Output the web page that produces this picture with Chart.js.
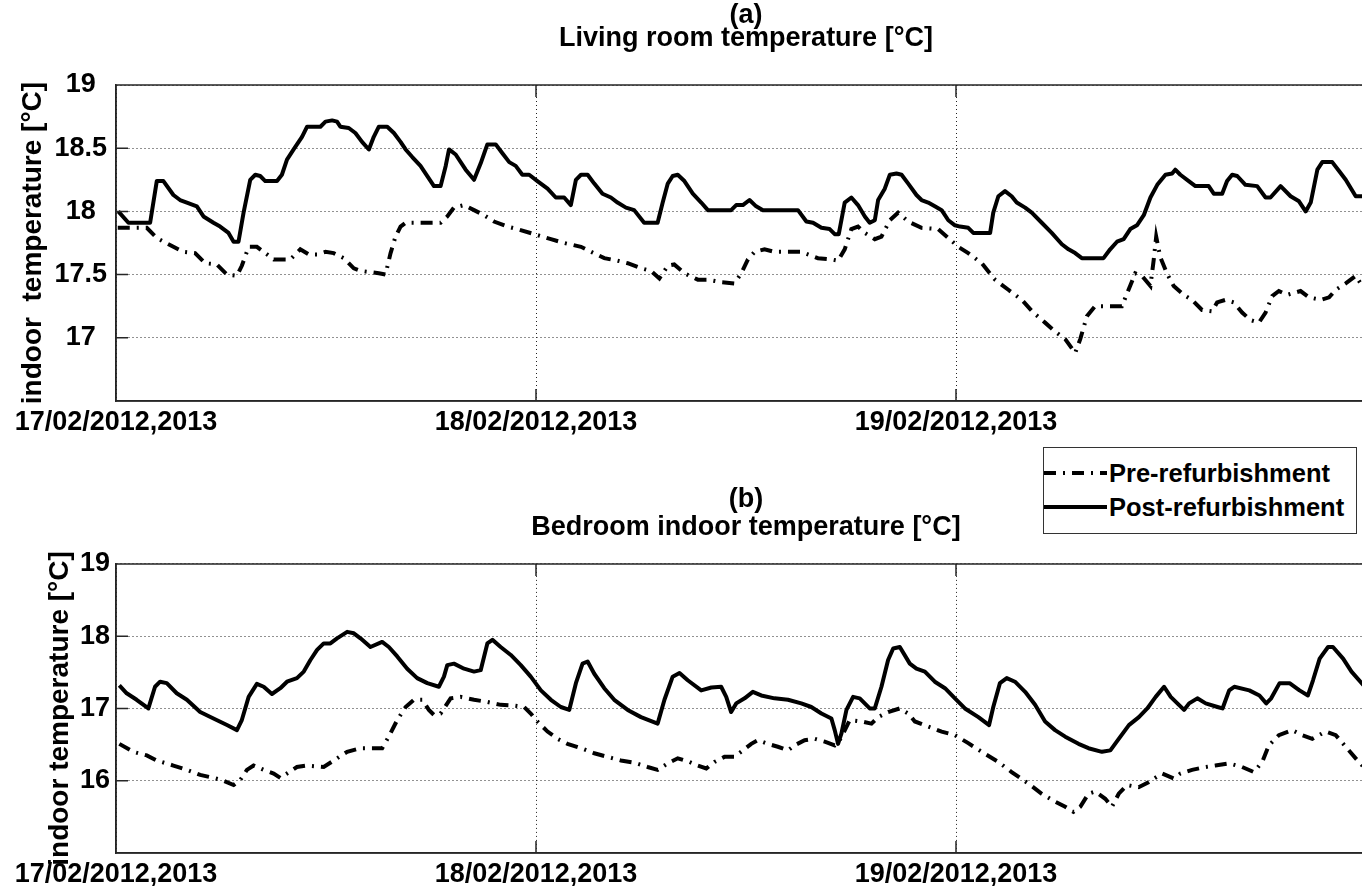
<!DOCTYPE html>
<html>
<head>
<meta charset="utf-8">
<script src="https://cdn.jsdelivr.net/npm/chart.js@4"></script>
<style>
  html, body { margin: 0; padding: 0; background: #fff; overflow: hidden; }
  #wrap { position: relative; width: 1362px; height: 886px; overflow: hidden; }
  #wrap canvas { position: absolute; left: 0; }
  #chartTop { top: 0; }
  #chartBottom { top: 470px; }
  #legend {
    position: absolute; left: 1043px; top: 447px; width: 312px; height: 77px;
    border: 1.5px solid #333; background: #fff; z-index: 2;
    font: bold 25.5px "Liberation Sans", Arial, sans-serif; color: #000;
    padding-top: 8px; box-sizing: content-box;
  }
  #legend .row { display: flex; align-items: center; height: 34px; }
  #legend svg { flex: none; }
  #legend span { margin-left: 2px; white-space: nowrap; }
</style>
</head>
<body>
<div id="wrap">
  <canvas id="chartTop" width="1376" height="455"></canvas>
  <canvas id="chartBottom" width="1376" height="416"></canvas>
  <div id="legend"></div>
</div>
<script>
// time axis in hours from 17/02 00:00
const dayHours = [0, 24, 48];
const dayLabels = ["17/02/2012,2013", "18/02/2012,2013", "19/02/2012,2013"];
const seriesNames = ["Pre-refurbishment", "Post-refurbishment"];

const livingTicks = [17, 17.5, 18, 18.5, 19];
const bedroomTicks = [16, 17, 18, 19];

// (a) living room
const livingPreHours = [0.1, 1.76, 2.33, 3.28, 3.85, 4.52, 5.1, 5.76, 6.34, 6.91, 7.19, 7.58, 8.05, 8.63, 9.01, 9.96, 10.53, 11.01, 11.49, 11.97, 12.44, 13.02, 13.59, 13.97, 15.02, 15.4, 15.69, 15.97, 16.26, 16.55, 18.55, 18.93, 19.31, 19.89, 20.46, 21.03, 21.6, 22.37, 22.94, 23.9, 24.85, 25.61, 26.57, 27.15, 27.9, 28.66, 29.24, 30.0, 30.57, 31.05, 31.53, 31.9, 32.48, 33.25, 33.82, 34.58, 35.34, 35.73, 36.11, 36.49, 37.06, 37.63, 39.16, 40.11, 40.88, 41.26, 41.64, 42.02, 42.4, 42.79, 43.36, 43.74, 44.22, 44.69, 45.27, 46.03, 46.98, 47.56, 48.13, 48.7, 49.47, 50.23, 50.99, 51.76, 52.42, 53.09, 53.66, 54.24, 54.81, 55.1, 55.48, 55.95, 57.48, 57.86, 58.24, 58.63, 59.11, 59.3, 59.44, 59.67, 60.05, 60.44, 61.01, 61.49, 62.06, 62.63, 62.92, 63.4, 63.87, 64.35, 64.83, 65.31, 65.69, 66.07, 66.45, 66.93, 67.69, 68.17, 68.84, 69.32, 69.7, 70.27, 70.84, 71.36];
const livingPreTemp = [17.87, 17.87, 17.79, 17.72, 17.68, 17.67, 17.59, 17.58, 17.5, 17.49, 17.57, 17.72, 17.72, 17.66, 17.62, 17.62, 17.7, 17.66, 17.66, 17.68, 17.67, 17.63, 17.55, 17.53, 17.51, 17.5, 17.67, 17.8, 17.88, 17.91, 17.91, 17.96, 18.03, 18.05, 18.01, 17.97, 17.92, 17.88, 17.86, 17.82, 17.78, 17.75, 17.72, 17.68, 17.63, 17.61, 17.59, 17.55, 17.53, 17.47, 17.57, 17.58, 17.51, 17.46, 17.46, 17.44, 17.43, 17.51, 17.62, 17.68, 17.7, 17.68, 17.68, 17.63, 17.62, 17.61, 17.7, 17.86, 17.88, 17.83, 17.78, 17.8, 17.93, 17.99, 17.92, 17.87, 17.86, 17.79, 17.72, 17.67, 17.59, 17.46, 17.38, 17.3, 17.2, 17.12, 17.05, 16.99, 16.88, 16.99, 17.17, 17.25, 17.25, 17.38, 17.51, 17.49, 17.41, 17.62, 17.8, 17.64, 17.51, 17.41, 17.34, 17.3, 17.22, 17.21, 17.28, 17.3, 17.28, 17.2, 17.14, 17.12, 17.2, 17.33, 17.37, 17.34, 17.37, 17.32, 17.3, 17.32, 17.38, 17.43, 17.49, 17.38];
const livingPostHours = [0.13, 0.71, 1.95, 2.33, 2.71, 3.28, 3.66, 4.05, 4.62, 5.0, 5.57, 5.95, 6.43, 6.72, 7.0, 7.29, 7.67, 7.96, 8.24, 8.53, 9.2, 9.48, 9.77, 10.15, 10.63, 10.92, 11.68, 11.97, 12.35, 12.63, 12.82, 13.3, 13.68, 14.06, 14.45, 14.73, 15.02, 15.5, 15.88, 16.26, 16.55, 16.93, 17.4, 17.79, 18.17, 18.55, 18.84, 19.03, 19.41, 19.98, 20.46, 20.84, 21.22, 21.7, 22.08, 22.47, 22.84, 23.22, 23.61, 24.08, 24.66, 25.13, 25.61, 25.99, 26.28, 26.57, 26.95, 27.33, 27.8, 28.28, 28.66, 29.14, 29.61, 30.18, 30.95, 31.24, 31.53, 31.81, 32.1, 32.48, 32.96, 33.44, 33.82, 35.15, 35.44, 35.82, 36.2, 36.58, 36.97, 38.97, 39.45, 39.83, 40.31, 40.78, 41.07, 41.3, 41.64, 42.02, 42.4, 42.79, 43.07, 43.36, 43.55, 43.93, 44.22, 44.6, 44.89, 45.27, 45.74, 46.03, 46.41, 46.79, 47.18, 47.56, 47.94, 48.23, 48.7, 48.99, 49.95, 50.13, 50.42, 50.8, 51.18, 51.47, 51.95, 52.33, 52.9, 53.47, 54.05, 54.43, 54.81, 55.19, 56.43, 56.81, 57.2, 57.58, 57.96, 58.34, 58.73, 59.11, 59.5, 59.97, 60.35, 60.53, 60.82, 61.3, 61.68, 62.44, 62.73, 63.21, 63.49, 63.78, 64.07, 64.54, 65.21, 65.69, 65.97, 66.55, 67.12, 67.6, 67.98, 68.27, 68.65, 68.93, 69.5, 69.89, 70.27, 70.84, 71.36];
const livingPostTemp = [18.0, 17.91, 17.91, 18.24, 18.24, 18.13, 18.09, 18.07, 18.04, 17.96, 17.91, 17.88, 17.83, 17.76, 17.76, 17.99, 18.25, 18.29, 18.28, 18.24, 18.24, 18.29, 18.41, 18.49, 18.59, 18.67, 18.67, 18.71, 18.72, 18.71, 18.67, 18.66, 18.62, 18.55, 18.49, 18.59, 18.67, 18.67, 18.62, 18.55, 18.49, 18.43, 18.36, 18.28, 18.2, 18.2, 18.36, 18.49, 18.45, 18.33, 18.25, 18.38, 18.53, 18.53, 18.46, 18.39, 18.36, 18.29, 18.29, 18.24, 18.18, 18.11, 18.11, 18.05, 18.25, 18.29, 18.29, 18.22, 18.14, 18.11, 18.07, 18.03, 18.01, 17.91, 17.91, 18.07, 18.22, 18.28, 18.29, 18.24, 18.14, 18.07, 18.01, 18.01, 18.05, 18.05, 18.09, 18.04, 18.01, 18.01, 17.92, 17.91, 17.87, 17.86, 17.82, 17.82, 18.07, 18.11, 18.05, 17.96, 17.91, 17.93, 18.09, 18.18, 18.29, 18.3, 18.29, 18.22, 18.13, 18.09, 18.07, 18.04, 18.01, 17.93, 17.89, 17.88, 17.87, 17.83, 17.83, 17.99, 18.12, 18.16, 18.12, 18.07, 18.03, 17.99, 17.91, 17.83, 17.74, 17.7, 17.67, 17.63, 17.63, 17.7, 17.76, 17.78, 17.86, 17.89, 17.97, 18.11, 18.21, 18.29, 18.3, 18.33, 18.29, 18.24, 18.2, 18.2, 18.14, 18.14, 18.24, 18.29, 18.28, 18.21, 18.2, 18.11, 18.11, 18.2, 18.12, 18.08, 18.0, 18.07, 18.33, 18.39, 18.39, 18.32, 18.25, 18.12, 18.12];

// (b) bedroom
const bedroomPreHours = [0.19, 0.99, 1.76, 2.33, 3.28, 4.05, 4.81, 5.57, 6.15, 6.72, 7.1, 7.48, 7.86, 8.44, 9.01, 9.39, 9.77, 10.34, 10.92, 11.87, 12.44, 13.21, 13.97, 15.21, 15.59, 16.07, 16.55, 17.02, 17.5, 17.88, 18.17, 18.55, 19.12, 19.69, 20.46, 21.22, 21.98, 22.75, 23.32, 23.7, 24.08, 24.66, 25.23, 25.8, 26.57, 27.33, 28.09, 28.85, 29.62, 30.38, 30.95, 31.53, 32.1, 32.77, 33.25, 33.73, 34.2, 34.77, 35.34, 35.82, 36.3, 36.68, 37.25, 37.82, 38.4, 38.78, 39.35, 39.92, 40.5, 41.07, 41.35, 41.55, 41.93, 42.6, 43.17, 43.55, 44.12, 44.79, 45.27, 45.65, 46.41, 47.18, 47.94, 48.7, 49.47, 50.42, 51.18, 52.14, 52.9, 53.66, 54.24, 54.71, 55.1, 55.57, 55.95, 56.53, 56.91, 57.3, 57.77, 58.44, 59.0, 59.77, 60.44, 60.82, 61.49, 62.25, 62.82, 63.59, 64.35, 65.02, 65.5, 65.88, 66.45, 67.21, 67.79, 68.36, 69.12, 69.7, 70.27, 70.84, 71.36];
const bedroomPreTemp = [16.51, 16.4, 16.35, 16.28, 16.21, 16.15, 16.08, 16.04, 16.0, 15.94, 16.01, 16.15, 16.21, 16.15, 16.1, 16.04, 16.1, 16.19, 16.21, 16.19, 16.28, 16.4, 16.45, 16.45, 16.61, 16.84, 17.02, 17.12, 17.12, 16.98, 16.91, 16.93, 17.14, 17.16, 17.12, 17.09, 17.05, 17.04, 17.02, 16.93, 16.82, 16.68, 16.58, 16.51, 16.45, 16.38, 16.33, 16.28, 16.25, 16.19, 16.15, 16.24, 16.31, 16.26, 16.21, 16.17, 16.26, 16.33, 16.33, 16.42, 16.51, 16.56, 16.51, 16.47, 16.42, 16.49, 16.56, 16.58, 16.54, 16.49, 16.56, 16.65, 16.84, 16.82, 16.79, 16.88, 16.95, 17.0, 16.93, 16.82, 16.75, 16.68, 16.63, 16.52, 16.4, 16.26, 16.12, 15.96, 15.82, 15.71, 15.64, 15.57, 15.64, 15.82, 15.85, 15.75, 15.64, 15.82, 15.94, 15.91, 15.98, 16.1, 16.03, 16.1, 16.15, 16.19, 16.21, 16.24, 16.19, 16.12, 16.26, 16.49, 16.63, 16.7, 16.63, 16.58, 16.68, 16.63, 16.47, 16.31, 16.17];
const bedroomPostHours = [0.19, 0.61, 1.18, 1.85, 2.23, 2.52, 2.9, 3.47, 4.05, 4.81, 5.57, 6.34, 6.91, 7.19, 7.58, 8.05, 8.44, 8.91, 9.39, 9.77, 10.34, 10.73, 11.11, 11.49, 11.87, 12.25, 12.63, 13.21, 13.59, 13.97, 14.54, 15.21, 15.59, 16.07, 16.64, 17.21, 17.79, 18.45, 18.74, 18.93, 19.31, 19.89, 20.46, 20.84, 21.22, 21.51, 21.98, 22.56, 23.13, 23.7, 24.28, 24.85, 25.42, 25.9, 26.28, 26.66, 26.95, 27.33, 27.9, 28.47, 29.24, 30.0, 30.95, 31.34, 31.81, 32.2, 32.67, 33.44, 34.02, 34.58, 34.87, 35.15, 35.44, 35.92, 36.39, 36.87, 37.63, 38.4, 39.16, 39.73, 40.31, 40.88, 41.07, 41.26, 41.45, 41.74, 42.12, 42.5, 43.07, 43.36, 43.74, 44.12, 44.41, 44.79, 45.36, 45.74, 46.22, 46.79, 47.37, 47.94, 48.51, 49.28, 49.89, 50.13, 50.51, 50.9, 51.37, 51.95, 52.52, 53.09, 53.66, 54.24, 55.0, 55.57, 56.34, 56.82, 57.3, 57.88, 58.45, 58.93, 59.41, 59.89, 60.27, 60.65, 61.03, 61.32, 61.79, 62.27, 62.94, 63.23, 63.61, 63.9, 64.76, 65.34, 65.73, 66.01, 66.49, 67.06, 67.63, 68.11, 68.4, 68.78, 69.26, 69.54, 70.12, 70.6, 71.36];
const bedroomPostTemp = [17.32, 17.21, 17.12, 17.0, 17.3, 17.37, 17.35, 17.21, 17.12, 16.95, 16.86, 16.77, 16.7, 16.84, 17.16, 17.34, 17.3, 17.2, 17.28, 17.37, 17.42, 17.51, 17.67, 17.81, 17.9, 17.9, 17.97, 18.06, 18.04, 17.97, 17.85, 17.92, 17.85, 17.72, 17.55, 17.42, 17.35, 17.3, 17.44, 17.6, 17.62, 17.55, 17.51, 17.53, 17.9, 17.95, 17.85, 17.74, 17.6, 17.44, 17.25, 17.12, 17.02, 16.98, 17.35, 17.62, 17.65, 17.48, 17.28, 17.12, 16.98, 16.88, 16.79, 17.12, 17.44, 17.49, 17.39, 17.25, 17.29, 17.3, 17.16, 16.95, 17.07, 17.14, 17.23, 17.18, 17.14, 17.12, 17.07, 17.02, 16.93, 16.86, 16.7, 16.51, 16.65, 16.98, 17.16, 17.14, 17.0, 17.0, 17.3, 17.67, 17.83, 17.85, 17.62, 17.55, 17.51, 17.37, 17.28, 17.14, 17.0, 16.88, 16.77, 17.02, 17.35, 17.42, 17.37, 17.23, 17.05, 16.82, 16.7, 16.61, 16.51, 16.45, 16.4, 16.42, 16.58, 16.77, 16.88, 17.0, 17.16, 17.3, 17.16, 17.07, 16.98, 17.07, 17.14, 17.07, 17.02, 17.0, 17.25, 17.3, 17.25, 17.18, 17.07, 17.14, 17.35, 17.35, 17.25, 17.18, 17.39, 17.69, 17.85, 17.85, 17.69, 17.51, 17.3];

Chart.defaults.font.family = '"Liberation Sans", Arial, sans-serif';
Chart.defaults.font.weight = 'bold';
Chart.defaults.font.size = 27;
Chart.defaults.color = '#000';

const axisColor = '#262626';
const gridColor = '#222';
const preDash = [12, 7, 2, 7];

function points(hours, temps) {
  return hours.map((h, i) => ({ x: h, y: temps[i] }));
}

function makeDatasets(preH, preT, postH, postT) {
  return [
    { label: seriesNames[0], data: points(preH, preT), borderColor: '#000', borderWidth: 4,
      borderDash: preDash, borderCapStyle: 'butt', pointRadius: 0, tension: 0 },
    { label: seriesNames[1], data: points(postH, postT), borderColor: '#000', borderWidth: 4,
      borderJoinStyle: 'round', pointRadius: 0, tension: 0 }
  ];
}

// top border plus matlab-style inward tick marks
const frame = {
  id: 'frame',
  afterDatasetsDraw(chart) {
    const { ctx, chartArea: a, scales: { x, y } } = chart;
    ctx.save();
    ctx.strokeStyle = axisColor;
    ctx.lineWidth = 1.5;
    ctx.beginPath();
    ctx.moveTo(a.left, a.top); ctx.lineTo(a.right, a.top);
    ctx.moveTo(a.left, a.top); ctx.lineTo(a.left, a.bottom); ctx.lineTo(a.right, a.bottom);
    x.ticks.forEach(t => {
      const px = x.getPixelForValue(t.value);
      ctx.moveTo(px, a.bottom); ctx.lineTo(px, a.bottom - 12);
      ctx.moveTo(px, a.top); ctx.lineTo(px, a.top + 12);
    });
    y.ticks.forEach(t => {
      const py = y.getPixelForValue(t.value);
      ctx.moveTo(a.left, py); ctx.lineTo(a.left + 12, py);
    });
    ctx.stroke();
    ctx.restore();
  }
};

function makeOptions(o) {
  return {
    responsive: false,
    animation: false,
    devicePixelRatio: 1,
    layout: { padding: 0 },
    plugins: {
      legend: { display: false },
      tooltip: { enabled: false },
      title: {
        display: true, text: o.tag, fullSize: false, color: '#000',
        font: { size: 27, weight: 'bold', lineHeight: 0.85 },
        padding: { top: o.tagTop, bottom: 0 }
      },
      subtitle: {
        display: true, text: o.title, fullSize: false, color: '#000',
        font: { size: 27, weight: 'bold', lineHeight: 0.85 },
        padding: { top: o.titleTop, bottom: o.titleBottom }
      }
    },
    scales: {
      x: {
        type: 'linear', min: 0, max: 72,
        afterBuildTicks: s => { s.ticks = dayHours.map(v => ({ value: v })); },
        afterFit: s => { s.height = o.xHeight; },
        ticks: {
          callback: (v, i) => dayLabels[i],
          padding: 5, maxRotation: 0, autoSkip: false, color: '#000'
        },
        grid: { color: gridColor, lineWidth: 1, drawTicks: false },
        border: { display: true, color: axisColor, width: 1.5, dash: [1, 3] }
      },
      y: {
        min: o.yMin, max: 19,
        afterBuildTicks: s => { s.ticks = o.yTicks.map(v => ({ value: v })); },
        afterFit: s => { s.width = 116; },
        ticks: { callback: v => String(v), padding: o.yPad, crossAlign: o.yAlign, color: '#000' },
        grid: { color: gridColor, lineWidth: 1, drawTicks: false },
        border: { display: true, color: axisColor, width: 1.5, dash: [1, 3] },
        title: {
          display: true, text: o.yTitle, color: '#000',
          font: { size: 28, weight: 'bold' },
          padding: { top: o.yTitlePad, bottom: 0 }
        }
      }
    }
  };
}

const topChart = new Chart(document.getElementById('chartTop'), {
  type: 'line',
  data: { datasets: makeDatasets(livingPreHours, livingPreTemp, livingPostHours, livingPostTemp) },
  options: makeOptions({
    tag: '(a)', title: 'Living room temperature [°C]',
    tagTop: 4.5, titleTop: 0, titleBottom: 34.6, xHeight: 54,
    yMin: 16.5, yTicks: livingTicks, yPad: 9, yAlign: 'center',
    yTitle: 'indoor  temperature [°C]', yTitlePad: 16
  }),
  plugins: [frame]
});

const bottomChart = new Chart(document.getElementById('chartBottom'), {
  type: 'line',
  data: { datasets: makeDatasets(bedroomPreHours, bedroomPreTemp, bedroomPostHours, bedroomPostTemp) },
  options: makeOptions({
    tag: '(b)', title: 'Bedroom indoor temperature [°C]',
    tagTop: 18.5, titleTop: 4.5, titleBottom: 25, xHeight: 33,
    yMin: 15, yTicks: bedroomTicks, yPad: 6, yAlign: 'near',
    yTitle: 'indoor temperature [°C]', yTitlePad: 43
  }),
  plugins: [frame]
});

// legend box between the two panels
const legendBox = document.getElementById('legend');
topChart.data.datasets.forEach(ds => {
  const row = document.createElement('div');
  row.className = 'row';
  const dash = (ds.borderDash || []).join(' ');
  row.innerHTML = '<svg width="63" height="20"><line x1="0" y1="10" x2="63" y2="10" stroke="#000" stroke-width="4"' +
    (dash ? ' stroke-dasharray="' + dash + '"' : '') + '/></svg><span>' + ds.label + '</span>';
  legendBox.appendChild(row);
});
</script>
</body>
</html>
